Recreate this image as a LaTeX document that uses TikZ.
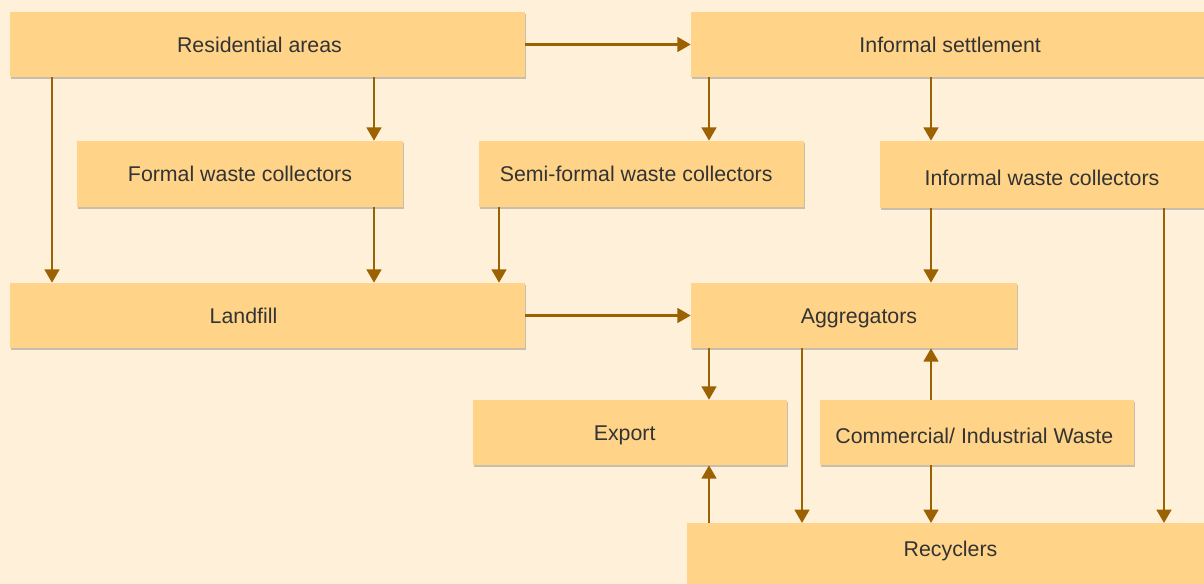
\documentclass[tikz,border=0pt]{standalone}
\usepackage{fontspec}
\setmainfont{Liberation Sans}
\usetikzlibrary{arrows.meta,shadows}
\definecolor{bgcream}{HTML}{FFF0D9}
\definecolor{boxfill}{HTML}{FFD488}
\definecolor{flowbrown}{HTML}{9C6100}
\definecolor{txtgrey}{HTML}{333333}
\tikzset{
  box/.style={rectangle, fill=boxfill, inner sep=0pt, text=txtgrey,
    font=\fontsize{16}{19}\selectfont, text height=12pt, text depth=0.5pt,
    drop shadow={shadow xshift=1pt, shadow yshift=-1.5pt, opacity=0.3, fill=black!70}},
  boxsize/.style 2 args={minimum width={#1*0.75pt}, minimum height={#2*0.75pt}},
  lowtext/.style={text height=17.2pt},
  textleft/.style={execute at end node={\kern#1}},
  textright/.style={execute at begin node={\kern#1}},
  flow/.style={draw=flowbrown, line width=1.9pt, -{Triangle[width=11pt,length=10pt]}}
}
\begin{document}
\begin{tikzpicture}[x=0.75pt,y=-0.75pt]
        %Background
        \fill[bgcream] (0,0) rectangle (1204,584);
        \useasboundingbox (0,0) rectangle (1204,584);
        %Lanes for the vertical arrows
        \foreach \x in {52,374,499,709,802,931,1164}
          \coordinate (x\x) at (\x,0);
        %Boxes
        \node[box, boxsize={515}{65}, textleft=12pt] (res) at (267.5,44.5) {Residential areas};
        \node[box, boxsize={513}{65}, textright=4pt] (infset) at (947.5,44.5) {Informal settlement};
        \node[box, boxsize={326}{66}] (formal) at (240,174) {Formal waste collectors};
        \node[box, boxsize={325}{66}, textleft=8pt] (semi) at (641.5,174) {Semi-formal waste collectors};
        \node[box, lowtext, boxsize={324}{67}] (infcol) at (1042,174.5) {Informal waste collectors};
        \node[box, boxsize={515}{65}, textleft=36pt] (landfill) at (267.5,315.5) {Landfill};
        \node[box, boxsize={326}{65}, textright=7.5pt] (agg) at (854,315.5) {Aggregators};
        \node[box, boxsize={314}{65}, textleft=8pt] (export) at (630,432.5) {Export};
        \node[box, lowtext, boxsize={314}{65}, textleft=4pt] (comm) at (977,432.5) {Commercial/ Industrial Waste};
        \node[box, anchor=north, boxsize={517}{0}, text height=25pt, text depth=23.75pt, textright=7.5pt] (recyc) at (945.5,523) {Recyclers};
        %Horizontal arrows
        \draw[flow] (res.east) -- (infset.west);
        \draw[flow] (landfill.east) -- (agg.west);
        %Downward arrows
        \draw[flow] (res.south -| x52) -- (landfill.north -| x52);
        \draw[flow] (res.south -| x374) -- (formal.north -| x374);
        \draw[flow] (formal.south -| x374) -- (landfill.north -| x374);
        \draw[flow] (semi.south -| x499) -- (landfill.north -| x499);
        \draw[flow] (infset.south -| x709) -- (semi.north -| x709);
        \draw[flow] (infset.south -| x931) -- (infcol.north -| x931);
        \draw[flow] (infcol.south -| x931) -- (agg.north -| x931);
        \draw[flow] (infcol.south -| x1164) -- (recyc.north -| x1164);
        \draw[flow] (agg.south -| x709) -- (export.north -| x709);
        \draw[flow] (agg.south -| x802) -- (recyc.north -| x802);
        \draw[flow] (comm.south -| x931) -- (recyc.north -| x931);
        %Upward arrows
        \draw[flow] (comm.north -| x931) -- (agg.south -| x931);
        \draw[flow] (recyc.north -| x709) -- (export.south -| x709);
\end{tikzpicture}
\end{document}
